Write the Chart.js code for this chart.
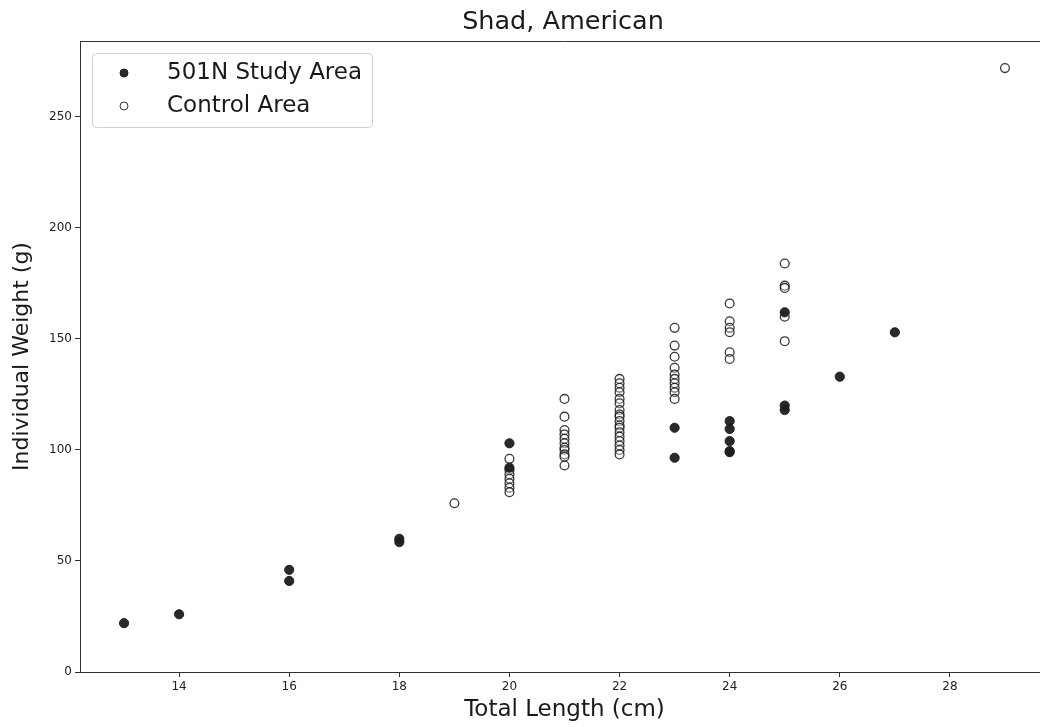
<!DOCTYPE html>
<html>
<head>
<meta charset="utf-8">
<script src="https://cdn.jsdelivr.net/npm/chart.js@4.4.0/dist/chart.umd.min.js"></script>
<style>
  html, body { margin: 0; padding: 0; background: #fff; overflow: hidden; }
  canvas { display: block; }
</style>
</head>
<body>
<canvas id="chart" width="1060" height="727"></canvas>
<script>
// total length (cm) / individual weight (g), one pair per fish
const studyLength = [13, 14, 16, 16, 18, 18, 20, 20, 23, 23, 24, 24, 24, 24, 24, 25, 25, 25, 26, 27];
const studyWeight = [22, 26, 46, 41, 60, 58.5, 103, 92, 110, 96.5, 113, 109.5, 104, 99.5, 99, 162, 120, 118, 133, 153];

const controlLength = [
  19,
  20, 20, 20, 20, 20, 20, 20,
  21, 21, 21, 21, 21, 21, 21, 21, 21, 21, 21,
  22, 22, 22, 22, 22, 22, 22, 22, 22, 22, 22, 22, 22, 22, 22, 22, 22, 22,
  23, 23, 23, 23, 23, 23, 23, 23, 23, 23,
  24, 24, 24, 24, 24, 24,
  25, 25, 25, 25, 25,
  29,
];
const controlWeight = [
  76,
  96, 91, 89, 87, 85, 83, 81,
  123, 115, 109, 107, 105, 103, 101, 100, 98, 97, 93,
  132, 130, 128, 126, 123, 121, 118, 116, 115, 113, 111, 110, 108, 106, 104, 102, 100, 98,
  155, 147, 142, 137, 134, 132, 130, 128, 126, 123,
  166, 158, 155, 153, 144, 141,
  184, 174, 173, 160, 149,
  272,
];

const xTicks = [14, 16, 18, 20, 22, 24, 26, 28];
const yTicks = [0, 50, 100, 150, 200, 250];

const seriesNames = ["501N Study Area", "Control Area"];
const chartTitle = "Shad, American";

const toPoints = (xs, ys) => xs.map((x, i) => ({ x: x, y: ys[i] }));

const font = "DejaVu Sans";
const axisColor = "#333";

// top spine, title and the boxed legend are drawn by hand
const decorations = {
  id: "decorations",
  afterDraw(chart) {
    const { ctx, chartArea } = chart;
    ctx.save();
    ctx.strokeStyle = axisColor;
    ctx.lineWidth = 1;
    ctx.beginPath();
    ctx.moveTo(chartArea.left, chartArea.top + 0.5);
    ctx.lineTo(chartArea.right, chartArea.top + 0.5);
    ctx.stroke();

    ctx.fillStyle = "#1a1a1a";
    ctx.font = "25.5px '" + font + "'";
    ctx.textAlign = "center";
    ctx.textBaseline = "middle";
    ctx.fillText(chartTitle, 563, 22);

    // legend box
    const bx = 92.5, by = 53.5, bw = 280, bh = 74, r = 4;
    ctx.strokeStyle = "#d0d0d0";
    ctx.fillStyle = "rgba(255,255,255,0.8)";
    ctx.beginPath();
    ctx.roundRect(bx, by, bw, bh, r);
    ctx.fill();
    ctx.stroke();

    const ds = chart.data.datasets;
    const rows = [73, 106];
    rows.forEach((y, i) => {
      ctx.beginPath();
      ctx.arc(124, y, 4, 0, Math.PI * 2);
      ctx.fillStyle = ds[i].backgroundColor;
      ctx.fill();
      ctx.lineWidth = 1;
      ctx.strokeStyle = ds[i].borderColor;
      ctx.stroke();
      ctx.fillStyle = "#1a1a1a";
      ctx.font = "23px '" + font + "'";
      ctx.textAlign = "left";
      ctx.fillText(seriesNames[i], 167, y);
    });
    ctx.restore();
  },
};

new Chart("chart", {
  type: "scatter",
  data: {
    datasets: [
      {
        label: seriesNames[0],
        data: toPoints(studyLength, studyWeight),
        backgroundColor: "rgba(30,30,30,0.95)",
        borderColor: "rgba(30,30,30,0.95)",
        pointRadius: 4.6,
        borderWidth: 1,
      },
      {
        label: seriesNames[1],
        data: toPoints(controlLength, controlWeight),
        backgroundColor: "rgba(255,255,255,0.3)",
        borderColor: "rgba(20,20,20,0.85)",
        pointRadius: 4.4,
        borderWidth: 1.3,
      },
    ],
  },
  options: {
    responsive: false,
    animation: false,
    layout: { padding: { top: 41, right: 11, left: 0, bottom: 0 } },
    plugins: {
      legend: { display: false },
      title: { display: false },
      tooltip: { enabled: false },
    },
    scales: {
      x: {
        type: "linear",
        min: 12.2,
        max: 29.8,
        afterBuildTicks: (s) => { s.ticks = xTicks.map((v) => ({ value: v })); },
        afterFit: (s) => { s.height = 55; },
        grid: { drawOnChartArea: false, drawTicks: true, tickLength: 5, color: axisColor },
        border: { display: true, color: axisColor, width: 1 },
        ticks: { color: "#222", font: { family: font, size: 12 }, padding: 3, maxRotation: 0 },
        title: {
          display: true,
          text: "Total Length (cm)",
          color: "#1a1a1a",
          font: { family: font, size: 23 },
          padding: { top: 0, bottom: 3 },
        },
      },
      y: {
        type: "linear",
        min: 0,
        max: 284.2,
        afterBuildTicks: (s) => { s.ticks = yTicks.map((v) => ({ value: v })); },
        afterFit: (s) => { s.width = 80; },
        grid: { drawOnChartArea: false, drawTicks: true, tickLength: 5, color: axisColor },
        border: { display: true, color: axisColor, width: 1 },
        ticks: { color: "#222", font: { family: font, size: 12 }, padding: 3 },
        title: {
          display: true,
          text: "Individual Weight (g)",
          color: "#1a1a1a",
          font: { family: font, size: 22 },
          padding: { top: 9, bottom: 0 },
        },
      },
    },
  },
  plugins: [decorations],
});
</script>
</body>
</html>
